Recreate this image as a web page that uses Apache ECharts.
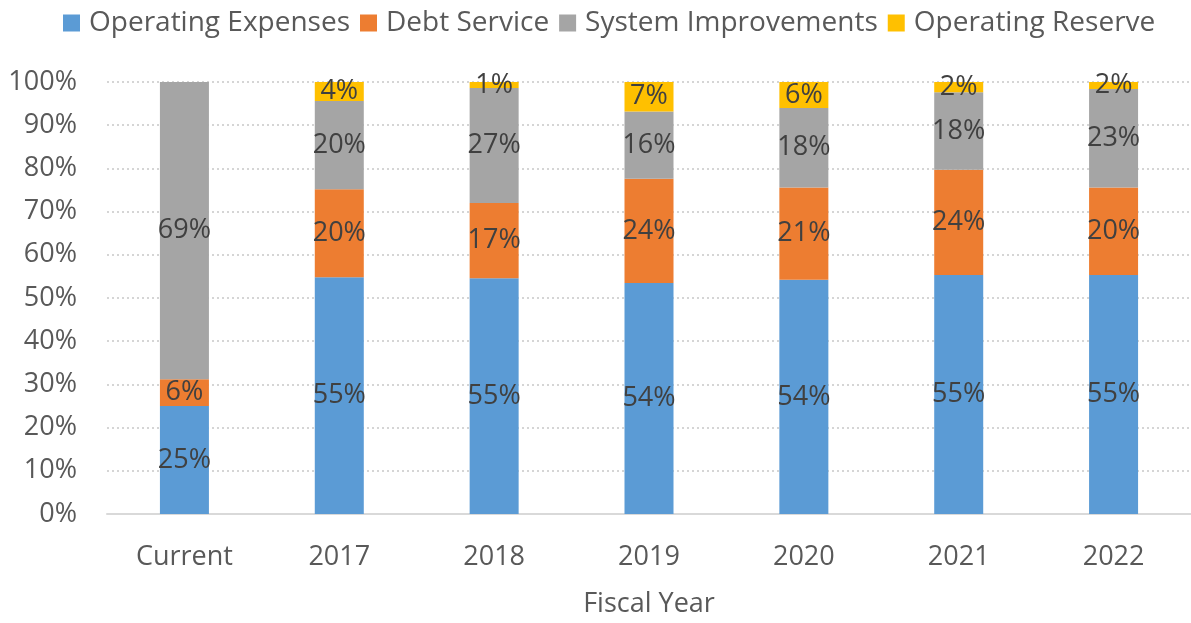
<!DOCTYPE html>
<html>
<head>
<meta charset="utf-8">
<script src="https://cdn.jsdelivr.net/npm/echarts@6/dist/echarts.min.js"></script>
<style>
  html, body { margin: 0; padding: 0; background: #ffffff; }
  #chart { width: 1191px; height: 623px; }
</style>
</head>
<body>
<div id="chart"></div>
<script>
// Share of the annual budget by cost category, per fiscal year (percent of total)
const fiscalYears = ['Current', '2017', '2018', '2019', '2020', '2021', '2022'];
const operatingExpenses  = [25.0, 54.8, 54.6, 53.5, 54.2, 55.3, 55.3];
const debtService        = [6.2, 20.4, 17.4, 24.1, 21.4, 24.4, 20.3];
const systemImprovements = [68.8, 20.4, 26.6, 15.6, 18.4, 17.9, 22.8];
const operatingReserve   = [0, 4.4, 1.4, 6.8, 6.0, 2.4, 1.6];
const percentTicks = [0, 10, 20, 30, 40, 50, 60, 70, 80, 90, 100];

const FONT = '"Open Sans", "Noto Sans", sans-serif';

function stackedSeries(name, values, color) {
  return {
    name: name,
    type: 'bar',
    stack: 'budget',
    barWidth: 49,
    data: values.map(v => (v > 0 ? v : null)),
    itemStyle: { color: color },
    label: {
      show: true,
      position: 'inside',
      fontFamily: FONT,
      fontSize: 27,
      color: '#404040',
      formatter: p => (p.value == null ? '' : Math.round(p.value) + '%')
    },
    emphasis: { disabled: true }
  };
}

const chart = echarts.init(document.getElementById('chart'), null, { renderer: 'canvas' });
chart.setOption({
  animation: false,
  backgroundColor: '#ffffff',
  textStyle: { fontFamily: FONT },
  legend: {
    top: 4,
    left: 58,
    itemWidth: 17,
    itemHeight: 17,
    itemGap: 10,
    icon: 'rect',
    textStyle: { fontFamily: FONT, fontSize: 28, color: '#595959', padding: [0, 0, 0, 4] },
    data: ['Operating Expenses', 'Debt Service', 'System Improvements', 'Operating Reserve']
  },
  grid: { left: 107, top: 82, width: 1093, height: 436.5, containLabel: false },
  xAxis: {
    type: 'category',
    data: fiscalYears,
    name: 'Fiscal Year',
    nameLocation: 'middle',
    nameGap: 77,
    nameTextStyle: { fontFamily: FONT, fontSize: 27, color: '#595959', verticalAlign: 'top' },
    axisLine: { lineStyle: { color: '#d9d9d9', width: 2 } },
    axisTick: { show: false },
    axisLabel: { margin: 30, fontFamily: FONT, fontSize: 27, color: '#595959' }
  },
  yAxis: {
    type: 'value',
    min: percentTicks[0],
    max: percentTicks[percentTicks.length - 1],
    interval: 10,
    axisLine: { show: false },
    axisTick: { show: false },
    axisLabel: { margin: 30, fontFamily: FONT, fontSize: 27, color: '#595959', formatter: '{value}%' },
    splitLine: { lineStyle: { color: '#c8c8c8', width: 1.5, type: [2, 3] } }
  },
  series: [
    stackedSeries('Operating Expenses', operatingExpenses, '#5B9BD5'),
    stackedSeries('Debt Service', debtService, '#ED7D31'),
    stackedSeries('System Improvements', systemImprovements, '#A5A5A5'),
    stackedSeries('Operating Reserve', operatingReserve, '#FFC000')
  ]
});
</script>
</body>
</html>
